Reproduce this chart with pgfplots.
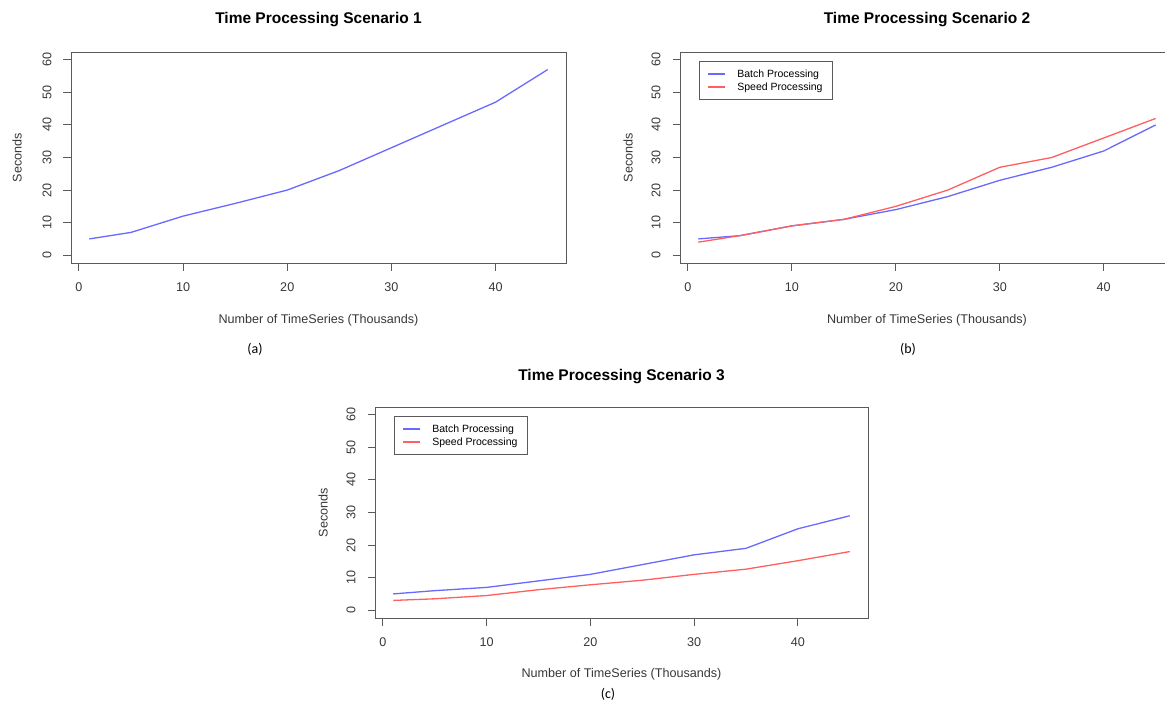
\documentclass[border=0pt]{standalone}
\usepackage{pgfplots}
\pgfplotsset{compat=1.18}
\usepackage{fontspec}
\setmainfont{Liberation Sans}
\newfontfamily\capfont{Carlito}
\definecolor{rblue}{RGB}{105,105,255}
\definecolor{rred}{RGB}{255,95,95}
\definecolor{boxgray}{RGB}{90,90,90}
\definecolor{txtgray}{RGB}{55,55,55}
\pgfplotsset{
  rstyle/.style={
    scale only axis, height=211pt,
    anchor=south west,
    xmin=-0.76, xmax=46.76, ymin=-2.4, ymax=62.4,
    xtick={0,10,20,30,40}, ytick={0,10,20,30,40,50,60},
    tick pos=left, tick align=outside, major tick length=7.5pt,
    minor tick num=0,
    tick style={color=boxgray, line width=1pt},
    axis line style={boxgray, line width=1pt},
    /pgf/number format/assume math mode=true,
    ticklabel style={font=\fontsize{12.6}{14}\selectfont, text=txtgray, inner sep=0pt},
    xticklabel style={anchor=center, yshift=-16.5pt},
    yticklabel style={rotate=90, anchor=center, yshift=16.5pt},
    every axis plot/.append style={line width=1.3pt},
    legend style={at={(0.0385,0.957)}, anchor=north west, draw=boxgray, line width=0.9pt,
      fill=white, font=\fontsize{10.5}{12.4}\selectfont,
      inner xsep=8pt, inner ysep=6pt, column sep=9pt, row sep=0pt},
    legend cell align=left,
    legend image post style={line width=1.8pt},
  },
}
\begin{document}
\begin{tikzpicture}
\path[use as bounding box] (0pt,0pt) rectangle (1165pt,-702pt);
\clip (0pt,0pt) rectangle (1165pt,-702pt);
% ---------- (a)
\begin{axis}[rstyle, width=495pt, at={(71pt,-263pt)}]
\addplot[color=rblue] coordinates {(1,5)(5,7)(10,12)(15,15.9)(20,20)(25,26)(30,33)(35,40)(40,47)(45,57)};
\end{axis}
% ---------- (b)
\begin{axis}[rstyle, width=494pt, at={(680pt,-263pt)}]
\addplot[color=rblue] coordinates {(1,5)(5,6)(10,9)(15,11)(20,14)(25,18)(30,23)(35,27)(40,32)(45,40)};
\addlegendentry{Batch Processing}
\addplot[color=rred] coordinates {(1,4)(5,6)(10,9)(15,11)(20,15)(25,20)(30,27)(35,30)(40,36)(45,42)};
\addlegendentry{Speed Processing}
\end{axis}
% ---------- (c)
\begin{axis}[rstyle, width=493pt, at={(375pt,-618pt)}]
\addplot[color=rblue] coordinates {(1,5)(5,6)(10,7)(15,9)(20,11)(25,14)(30,17)(35,19)(40,25)(45,29)};
\addlegendentry{Batch Processing}
\addplot[color=rred] coordinates {(1,3)(5,3.5)(10,4.5)(15,6.3)(20,7.8)(25,9.2)(30,11)(35,12.6)(40,15.2)(45,18)};
\addlegendentry{Speed Processing}
\end{axis}
% ---------- titles
\node[font=\bfseries\fontsize{15.5}{18}\selectfont] at (318.5pt,-20pt) {Time Processing Scenario 1};
\node[font=\bfseries\fontsize{15.5}{18}\selectfont] at (927pt,-20pt) {Time Processing Scenario 2};
\node[font=\bfseries\fontsize{15.5}{18}\selectfont] at (621.5pt,-377pt) {Time Processing Scenario 3};
% ---------- axis labels
\node[font=\fontsize{12.6}{14}\selectfont, text=txtgray] at (318.5pt,-320pt) {Number of TimeSeries (Thousands)};
\node[font=\fontsize{12.6}{14}\selectfont, text=txtgray] at (927pt,-320pt) {Number of TimeSeries (Thousands)};
\node[font=\fontsize{12.6}{14}\selectfont, text=txtgray] at (621.5pt,-674pt) {Number of TimeSeries (Thousands)};
\node[font=\fontsize{12.6}{14}\selectfont, text=txtgray, rotate=90] at (17pt,-157.5pt) {Seconds};
\node[font=\fontsize{12.6}{14}\selectfont, text=txtgray, rotate=90] at (628pt,-157.5pt) {Seconds};
\node[font=\fontsize{12.6}{14}\selectfont, text=txtgray, rotate=90] at (323pt,-512.5pt) {Seconds};
% ---------- captions
\node[font=\capfont\fontsize{14}{16}\selectfont] at (255pt,-349pt) {(a)};
\node[font=\capfont\fontsize{14}{16}\selectfont] at (908pt,-349pt) {(b)};
\node[font=\capfont\fontsize{14}{16}\selectfont] at (608pt,-694pt) {(c)};
\end{tikzpicture}
\end{document}
